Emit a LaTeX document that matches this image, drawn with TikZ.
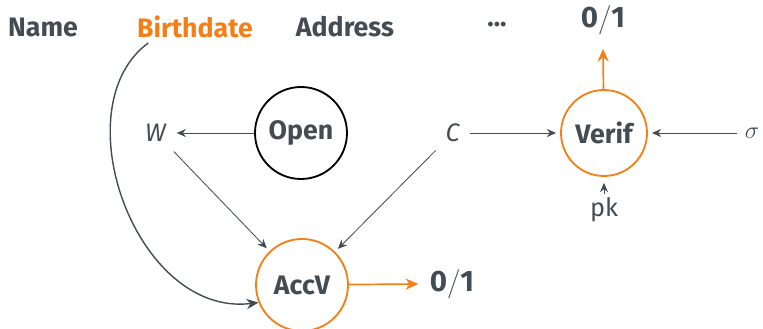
\documentclass[tikz,border=0pt]{standalone}
\usepackage{fontspec}
\setmainfont{Fira Sans}
\setsansfont{Fira Sans}
\usepackage{tikz}
\usetikzlibrary{arrows.meta,positioning,calc}
\definecolor{AccInk}{HTML}{434B53}
\definecolor{AccOrange}{HTML}{F57F17}

\begin{document}
\begin{tikzpicture}[x=1cm,y=1cm]
    \tikzset{
      every node/.style={text=AccInk,font=\fontsize{18}{21}\selectfont},
      field/.style={font=\fontsize{19}{22}\selectfont\bfseries},
      algo/.style={circle, minimum size=2.3cm, inner sep=0pt, draw=black,
        line width=1.3pt, font=\fontsize{19}{22}\selectfont\bfseries},
      check/.style={algo,draw=AccOrange},
      var/.style={inner sep=2.4mm},
      bit/.style={inner sep=1mm,font=\fontsize{21}{24}\selectfont},
      edge/.style={-{Stealth[length=2.3mm,width=2mm]},draw=AccInk,line width=.6pt},
      result/.style={-{Stealth[length=3.2mm,width=2.8mm]},draw=AccOrange,line width=1.2pt}
    }
    \useasboundingbox (0,0) rectangle (19.075,8.225);
    % record fields
    \node[field] (name) at (1.075,7.55) {Name};
    \node[field,text=AccOrange] (birth) at (4.875,7.55) {Birthdate};
    \node[field] (addr) at (8.625,7.55) {Address};
    \node[field] (dots) at (12.425,7.6) {...};
    % commitment side
    \node[algo] (open) at (7.525,4.9) {Open};
    \node[var] (w) at (3.9,4.9) {\textit{W}};
    \node[var] (c) at (11.325,4.9) {\textit{C}};
    \node[check] (accv) at (7.55,1.1) {AccV};
    \node[bit] (outa) at (11.3,1.125) {$\mathbf{0/1}$};
    % signature side
    \node[check,minimum size=2.15cm] (verif) at (15.1,4.9) {Verif};
    \node[var,inner sep=1.8mm] (sig) at (18.8,4.9) {$\sigma$};
    \node[inner sep=1mm] (pk) at (15.1,2.975) {pk};
    \node[bit] (outv) at (15.075,7.725) {$\mathbf{0/1}$};
    \draw[edge] (open) -- (w);
    \foreach \a/\b in {c/verif,sig/verif,w/accv,c/accv}
      \draw[edge,shorten >=1mm] (\a) -- (\b);
    \draw[edge,shorten >=1.5mm] (pk) -- (verif);
    \draw[result] (accv) -- ([xshift=-1.8mm]outa.west);
    \draw[result] (verif) -- ([yshift=-2.5mm]outv.south);
    \draw[-{Stealth[length=3mm,width=2.6mm]},draw=AccInk,line width=1pt]
      ([xshift=4mm]birth.south west) .. controls +(-2.175,-1.6) and +(-3.075,-0.375) .. (accv.202);
  \end{tikzpicture}
\end{document}
